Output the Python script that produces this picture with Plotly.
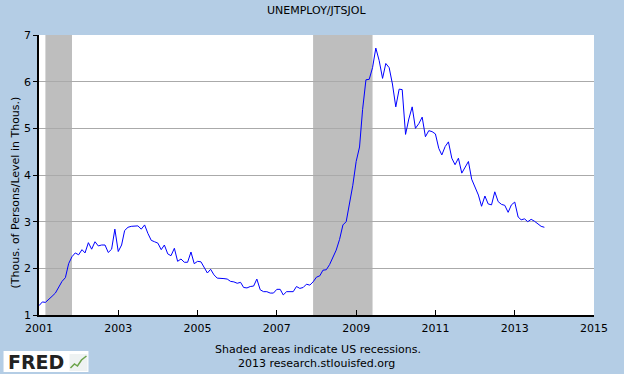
import pandas as pd
import plotly.graph_objects as go

title_text = "UNEMPLOY/JTSJOL"
y_title = "(Thous. of Persons/Level in Thous.)"
start_month = "2001-01-01"
ratio = [
    1.20, 1.28, 1.27, 1.33, 1.40, 1.47, 1.58, 1.72, 1.80, 2.10, 2.25, 2.33,
    2.29, 2.40, 2.33, 2.55, 2.41, 2.57, 2.48, 2.50, 2.50, 2.34, 2.41, 2.84,
    2.36, 2.50, 2.81, 2.88, 2.90, 2.91, 2.91, 2.84, 2.93, 2.75, 2.60, 2.57,
    2.54, 2.40, 2.50, 2.31, 2.27, 2.43, 2.15, 2.20, 2.13, 2.13, 2.35, 2.10,
    2.15, 2.14, 2.01, 1.90, 1.98, 1.86, 1.79, 1.79, 1.78, 1.77, 1.72, 1.71,
    1.68, 1.70, 1.59, 1.58, 1.61, 1.62, 1.77, 1.54, 1.50, 1.50, 1.47, 1.47,
    1.55, 1.55, 1.43, 1.50, 1.50, 1.50, 1.61, 1.57, 1.59, 1.66, 1.64, 1.71,
    1.81, 1.84, 1.96, 1.97, 2.08, 2.22, 2.39, 2.62, 2.93, 3.00, 3.40, 3.78,
    4.29, 4.60, 5.40, 6.04, 6.05, 6.30, 6.72, 6.45, 6.07, 6.39, 6.30, 5.95,
    5.46, 5.84, 5.83, 4.87, 5.20, 5.46, 5.00, 5.10, 5.24, 4.82, 4.95, 4.93,
    4.88, 4.57, 4.43, 4.61, 4.71, 4.36, 4.22, 4.36, 4.04, 4.17, 4.29, 3.91,
    3.75, 3.57, 3.33, 3.55, 3.38, 3.36, 3.64, 3.43, 3.37, 3.35, 3.20, 3.36,
    3.42, 3.10, 3.04, 3.06, 3.00, 3.05, 3.01, 2.95, 2.90, 2.88,
]
recessions = [("2001-03-01", "2001-11-01"), ("2007-12-01", "2009-06-01")]
x_ticks = ["2001", "2003", "2005", "2007", "2009", "2011", "2013", "2015"]
y_ticks = [1, 2, 3, 4, 5, 6, 7]

dates = pd.date_range(start_month, periods=len(ratio), freq="MS")

BG = "#B4CDE5"
FONT = "DejaVu Sans"

fig = go.Figure()
fig.add_trace(go.Scatter(x=dates, y=ratio, mode="lines",
                         line=dict(color="#0000FF", width=1), hoverinfo="skip"))

shapes = []
for a, b in recessions:
    shapes.append(dict(type="rect", xref="x", yref="paper", x0=a, x1=b, y0=0, y1=1,
                       fillcolor="#BEBEBE", line=dict(width=0), layer="between"))

# plot area geometry in pixels
L, R, T, B = 38.5, 594, 35, 315
W, H = R - L, B - T
def px(x):
    return (x - L) / W
def py(y):
    return (B - y) / H

# FRED logo box
shapes.append(dict(type="rect", xref="paper", yref="paper",
                   x0=px(3), x1=px(88), y0=py(372), y1=py(351),
                   fillcolor="white", line=dict(width=0), layer="above"))
shapes.append(dict(type="rect", xref="paper", yref="paper",
                   x0=px(69), x1=px(87), y0=py(371), y1=py(354),
                   fillcolor="#EEF2F2", line=dict(width=0), layer="above"))
shapes.append(dict(type="path", xref="paper", yref="paper",
                   path=f"M {px(70)},{py(368)} L {px(74)},{py(364)} L {px(77)},{py(366)} L {px(81)},{py(360)} L {px(86)},{py(356)}",
                   line=dict(color="#6BA34A", width=1.5), layer="above"))

annotations = [
    dict(text=title_text, xref="paper", yref="paper", x=px(316), y=py(10),
         showarrow=False, font=dict(family=FONT, size=11, color="black"),
         xanchor="center", yanchor="middle"),
    dict(text=y_title, xref="paper", yref="paper", x=px(14), y=py(193),
         showarrow=False, textangle=-90, font=dict(family=FONT, size=11, color="black"),
         xanchor="center", yanchor="middle"),
    dict(text="Shaded areas indicate US recessions.", xref="paper", yref="paper",
         x=px(318), y=py(349), showarrow=False,
         font=dict(family=FONT, size=11, color="black"), xanchor="center", yanchor="middle"),
    dict(text="2013 research.stlouisfed.org", xref="paper", yref="paper",
         x=px(316), y=py(363), showarrow=False,
         font=dict(family=FONT, size=11, color="black"), xanchor="center", yanchor="middle"),
    dict(text="<b>FRED</b>", xref="paper", yref="paper", x=px(5), y=py(362),
         showarrow=False, font=dict(family=FONT, size=19, color="#222222"),
         xanchor="left", yanchor="middle"),
]

fig.update_layout(
    width=624, height=374,
    margin=dict(l=L, r=624 - R, t=T, b=374 - B, pad=0),
    paper_bgcolor=BG, plot_bgcolor="white",
    showlegend=False,
    shapes=shapes, annotations=annotations,
    font=dict(family=FONT, size=11, color="black"),
)
fig.update_xaxes(
    type="date", range=["2001-01-01", "2015-01-01"],
    tickvals=[f"{t}-01-01" for t in x_ticks], ticktext=x_ticks,
    ticks="inside", ticklen=5, tickcolor="black", tickwidth=1,
    showline=True, linecolor="black", linewidth=1.5, showgrid=False,
    zeroline=False, tickfont=dict(family=FONT, size=11), ticklabelstandoff=2,
)
fig.update_yaxes(
    range=[1, 7], tickvals=y_ticks, ticks="outside", ticklen=4, tickcolor="black",
    showline=True, linecolor="black", linewidth=1.5,
    showgrid=True, gridcolor="#AAAAAA", gridwidth=1, zeroline=False,
    tickfont=dict(family=FONT, size=11),
)

fig.write_html(
    "out.html",
    config={"displayModeBar": False},
    post_script="document.body.style.margin='0';document.body.style.padding='0';document.body.style.overflow='hidden';",
)
